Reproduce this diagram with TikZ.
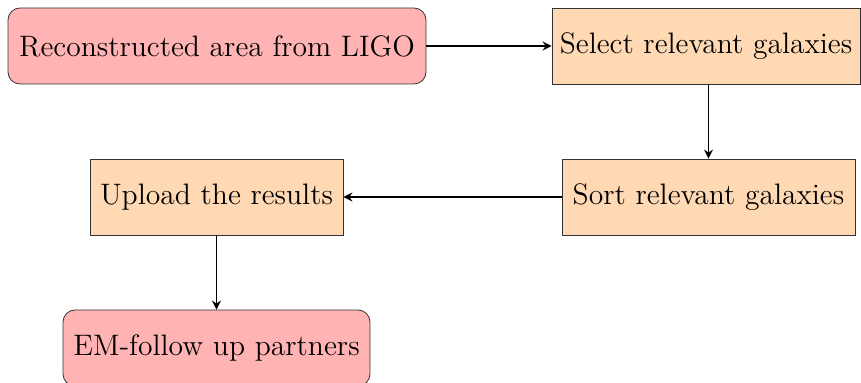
\documentclass[tikz,border=0pt]{standalone}
\usetikzlibrary{arrows.meta}
\definecolor{boxred}{RGB}{255,179,179}
\definecolor{boxorange}{RGB}{255,217,179}
\begin{document}
\begin{tikzpicture}[x=0.5pt,y=-0.5pt,
  base/.style={draw=black!80, minimum height=38pt, inner xsep=2pt, font=\fontsize{14.8}{17}\selectfont},
  endbox/.style={base, fill=boxred, rounded corners=6pt},
  procbox/.style={base, fill=boxorange},
  conn/.style={-{Stealth[length=4.5pt, width=4.5pt, inset=1.5pt]}, thick}]
\useasboundingbox (0,0) rectangle (861,383);
\node[endbox, minimum width=209pt] (ligo) at (217,46) {Reconstructed area from LIGO};
\node[procbox, minimum width=154pt] (select) at (706,46) {Select relevant galaxies};
\node[procbox, minimum width=146.5pt] (sort) at (708.5,197) {Sort relevant galaxies};
\node[procbox, minimum width=126.5pt] (upload) at (216.5,197) {Upload the results};
\node[endbox, minimum width=153.5pt] (em) at (216.5,348) {EM-follow up partners};
\draw[conn] (ligo) -- (select);
\draw[conn] (sort.north |- select.south) -- (sort.north);
\draw[conn] (sort) -- (upload);
\draw[conn] (upload) -- (em);
\end{tikzpicture}
\end{document}
